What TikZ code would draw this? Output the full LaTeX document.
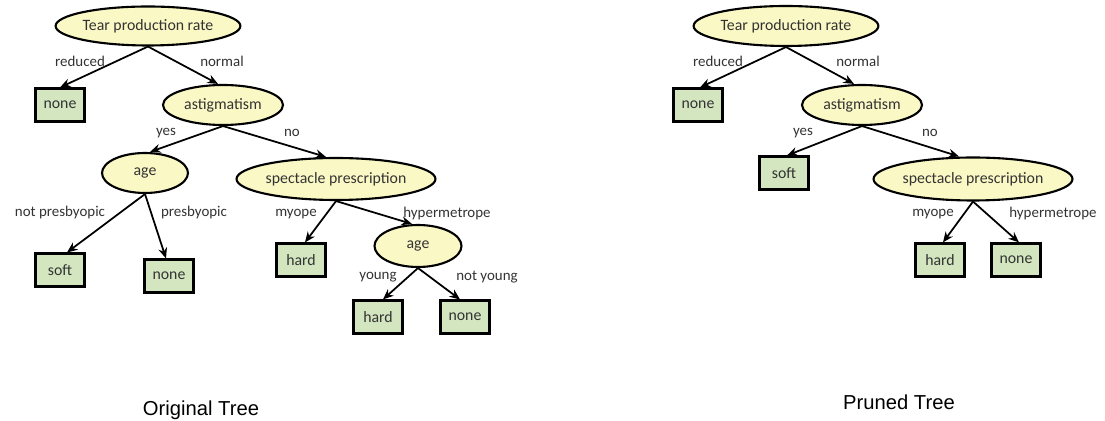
\documentclass[tikz,border=0pt]{standalone}
\usepackage{fontspec}
\setmainfont{Carlito}
\newfontfamily\capfont{Liberation Sans}
\usetikzlibrary{shapes.geometric,arrows.meta}
\definecolor{ellfill}{HTML}{FAF8C4}
\definecolor{boxfill}{HTML}{D3E6C0}
\definecolor{txtgray}{HTML}{333333}
\tikzset{
  attr/.style={ellipse,draw=black,line width=1.2pt,fill=ellfill,inner sep=0pt,
    font=\fontsize{9}{10}\selectfont,text=txtgray},
  leaf/.style={rectangle,draw=black,line width=1.2pt,fill=boxfill,inner sep=0pt,
    minimum width=0.98cm,minimum height=0.66cm,font=\fontsize{9}{10}\selectfont,text=txtgray},
  elabel/.style={font=\fontsize{8.5}{10}\selectfont,text=txtgray,inner sep=0pt},
  conn/.style={-{Stealth[length=6pt,width=5pt]},line width=1pt,black},
  caption/.style={font=\capfont\fontsize{11.5}{13}\selectfont,text=black}
}
\begin{document}
\begin{tikzpicture}[x=0.02cm,y=-0.02cm]
\useasboundingbox (0,0) rectangle (1105,421);
% ---------------- Original tree ----------------
\node[attr,minimum width=3.0cm,minimum height=0.78cm] (r1) at (148,26) {Tear production rate};
\node[leaf] (n1) at (60,105) {none};
\node[attr,minimum width=2.4cm,minimum height=0.8cm] (a1) at (223,105) {astigmatism};
\node[attr,minimum width=1.72cm,minimum height=0.8cm] (g1) at (145,173) {age};
\node[attr,minimum width=3.24cm,minimum height=0.84cm] (s1) at (336,179) {spectacle prescription};
\node[leaf] (sf1) at (60,270) {soft};
\node[leaf] (n2) at (169,276) {none};
\node[leaf] (h1) at (301,260) {hard};
\node[attr,minimum width=1.74cm,minimum height=0.84cm] (g2) at (418,246) {age};
\node[leaf] (h2) at (378,317) {hard};
\node[leaf] (n3) at (465,317) {none};

\draw[conn] (r1.south) -- (n1.north);
\draw[conn] (r1.south) -- ([xshift=-0.1cm]a1.north);
\draw[conn] (a1.south) -- ([xshift=0.1cm]g1.north);
\draw[conn] (a1.south) -- ([xshift=-0.2cm]s1.north);
\draw[conn] (g1.south) -- ([xshift=0.14cm]sf1.north);
\draw[conn] (g1.south) -- ([xshift=-0.06cm]n2.north);
\draw[conn] (s1.south) -- ([xshift=0.08cm]h1.north);
\draw[conn] (s1.south) -- ([xshift=-0.12cm]g2.north);
\draw[conn] (g2.south) -- ([xshift=0.1cm]h2.north);
\draw[conn] (g2.south) -- ([xshift=-0.1cm]n3.north);

\node[elabel] (l1) at (80,61) {reduced};
\node[elabel] (l2) at (222,61) {normal};
\node[elabel] (l3) at (166,133) {yes};
\node[elabel] (l4) at (292,133) {no};
\node[elabel] (l5) at (60,213) {not presbyopic};
\node[elabel] (l6) at (194,213) {presbyopic};
\node[elabel] (l7) at (296,214) {myope};
\node[elabel] (l8) at (447,214) {hypermetrope};
\node[elabel] (l9) at (378,277) {young};
\node[elabel] (l10) at (487,277) {not young};

% ---------------- Pruned tree ----------------
\node[attr,minimum width=3.04cm,minimum height=0.8cm] (r2) at (786,26) {Tear production rate};
\node[leaf] (m1) at (698,105) {none};
\node[attr,minimum width=2.4cm,minimum height=0.8cm] (a2) at (862,105) {astigmatism};
\node[leaf] (sf2) at (784,173) {soft};
\node[attr,minimum width=3.2cm,minimum height=0.86cm] (s2) at (973,179) {spectacle prescription};
\node[leaf] (h3) at (940,260) {hard};
\node[leaf] (m2) at (1016,260) {none};

\draw[conn] (r2.south) -- ([xshift=0.04cm]m1.north);
\draw[conn] (r2.south) -- ([xshift=-0.16cm]a2.north);
\draw[conn] (a2.south) -- ([xshift=0.06cm]sf2.north);
\draw[conn] (a2.south) -- ([xshift=-0.28cm]s2.north);
\draw[conn] (s2.south) -- ([xshift=0.06cm]h3.north);
\draw[conn] (s2.south) -- ([xshift=0.06cm]m2.north);

\node[elabel] (p1) at (718,61) {reduced};
\node[elabel] (p2) at (858,61) {normal};
\node[elabel] (p3) at (803,133) {yes};
\node[elabel] (p4) at (930,133) {no};
\node[elabel] (p5) at (933,214) {myope};
\node[elabel] (p6) at (1053,214) {hypermetrope};

% ---------------- Captions ----------------
\node[caption] (c1) at (201,410) {Original Tree};
\node[caption] (c2) at (899,402) {Pruned Tree};
\end{tikzpicture}
\end{document}
